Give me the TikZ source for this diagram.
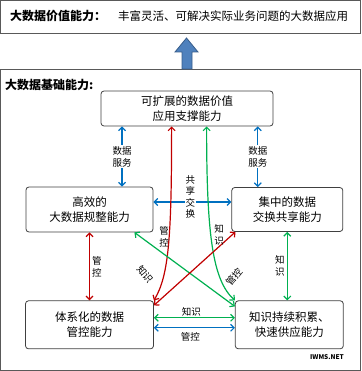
\documentclass[tikz,border=0pt]{standalone}
\usepackage{fontspec}
\setmainfont{Noto Sans CJK SC}
\usepackage{tikz}
\usetikzlibrary{arrows.meta, positioning, calc}
\definecolor{bdblue}{RGB}{0,112,192}
\definecolor{bdred}{RGB}{192,0,0}
\definecolor{bdgreen}{RGB}{0,176,80}
\definecolor{bdfill}{RGB}{79,129,189}
\definecolor{bdedge}{RGB}{56,93,138}
\tikzset{
  bd frame/.style={
    draw=black!65, line width=0.8pt
  },
  bd box/.style={
    rectangle, rounded corners=3pt, draw=black!75, fill=white,
    line width=0.8pt, align=center, inner sep=0pt,
    font=\fontsize{11.5}{15}\selectfont
  },
  bd title/.style={
    anchor=west, inner sep=0pt, font=\bfseries\fontsize{12}{14}\selectfont
  },
  bd arrow/.style={
    {Straight Barb[length=3.5pt,width=7pt]}-{Straight Barb[length=3.5pt,width=7pt]},
    line width=1.2pt
  },
  bd label/.style={
    fill=white, text=black, inner sep=1pt, align=center,
    font=\fontsize{9.5}{12}\selectfont
  }
}
\begin{document}
\begin{tikzpicture}[x=1pt, y=-1pt, node distance=68pt and 78pt]
  \useasboundingbox (0,0) rectangle (361,371);
  % frames
  \draw [bd frame] (0.5,0.5) rectangle (360,33);
  \draw [bd frame] (0.5,69) rectangle (360,370.5);
  \node (valtitle) [bd title] at (10,16) {大数据价值能力：};
  \node (valtext) [anchor=west, inner sep=0pt, font=\fontsize{11.5}{14}\selectfont] at (118,16) {丰富灵活、可解决实际业务问题的大数据应用};
  \node (basetitle) [bd title] at (5,85) {大数据基础能力:};
  \draw [fill=bdfill, draw=bdedge, line width=0.8pt]
    (182,69) -- (182,52) -- (175,52) -- (186.5,38) -- (198,52) -- (192,52) -- (192,69) -- cycle;

  % capability boxes
  \node (sup) [bd box, minimum width=172pt, minimum height=35pt] at (187,108.5) {可扩展的数据价值\\应用支撑能力};
  \node (reg) [bd box, minimum width=127pt, minimum height=45pt] at (89.5,209.5) {高效的\\大数据规整能力};
  \node (exc) [bd box, minimum width=111pt, minimum height=44pt, right=of reg] {集中的数据\\交换共享能力};
  \node (gov) [bd box, minimum width=128pt, minimum height=48pt, below=of reg] {体系化的数据\\管控能力};
  \node (kno) [bd box, minimum width=108pt, minimum height=48pt, right=81pt of gov] {知识持续积累、\\快速供应能力};

  % connectors
  \draw [bd arrow, bdblue] ([xshift=32.5pt]reg.north) -- ([xshift=32.5pt]reg.north |- sup.south)
    node [bd label, midway] {数据\\服务};
  \draw [bd arrow, bdblue] ([xshift=-29.5pt]exc.north) -- ([xshift=-29.5pt]exc.north |- sup.south)
    node [bd label, midway] {数据\\服务};
  \draw [bd arrow, bdblue] ([yshift=7.5pt]reg.east) -- ([yshift=7.5pt]reg.east -| exc.west)
    node [bd label, midway, yshift=5pt, xshift=-2pt, font=\fontsize{9.5}{11.5}\selectfont] {共\\享\\交\\换};
  \draw [bd arrow, bdred] ([xshift=71pt]sup.south west) .. controls +(0,110) and +(15,-25) .. (gov.north east);
  \draw [bd arrow, bdgreen] ([xshift=106pt]sup.south west) .. controls +(0,110) and +(-22,-20) .. (kno.north west);
  \draw [bd arrow, bdred] (reg.south) -- (gov.north)
    node [bd label, midway, right=1pt] {管\\控};
  \draw [bd arrow, bdgreen] (exc.south) -- (exc.south |- kno.north)
    node [bd label, midway, left=1pt] {知\\识};
  \draw [bd arrow, bdgreen] ([xshift=-19pt]reg.south east) -- ([yshift=-6pt]kno.north west);
  \draw [bd arrow, bdred] ([yshift=-5pt]gov.north east) -- ([xshift=4pt]exc.south west);
  \draw [bd arrow, bdgreen] ([yshift=7pt]gov.east) -- ([yshift=7pt]gov.east -| kno.west)
    node [bd label, midway, above=0pt, xshift=-3pt, fill=none] {知识};
  \draw [bd arrow, bdblue] ([yshift=-3pt]gov.east) -- ([yshift=-3pt]gov.east -| kno.west)
    node [bd label, midway, below=3pt, xshift=-4pt, fill=none] {管控};

  % free labels
  \node (redlbl) [bd label, fill=none] at (164,237) {管\\控};
  \node (greenlbl) [bd label, fill=none] at (219,235) {知\\识};
  \node (knolbl) [bd label, fill=none, rotate=-50] at (145,274) {知识};
  \node (govlbl) [bd label, fill=none, rotate=50] at (234,277) {管控};
  \node (wm) [inner sep=0pt, font=\bfseries\fontsize{6.5}{7}\selectfont] at (327,357) {IWMS.NET};
\end{tikzpicture}
\end{document}
